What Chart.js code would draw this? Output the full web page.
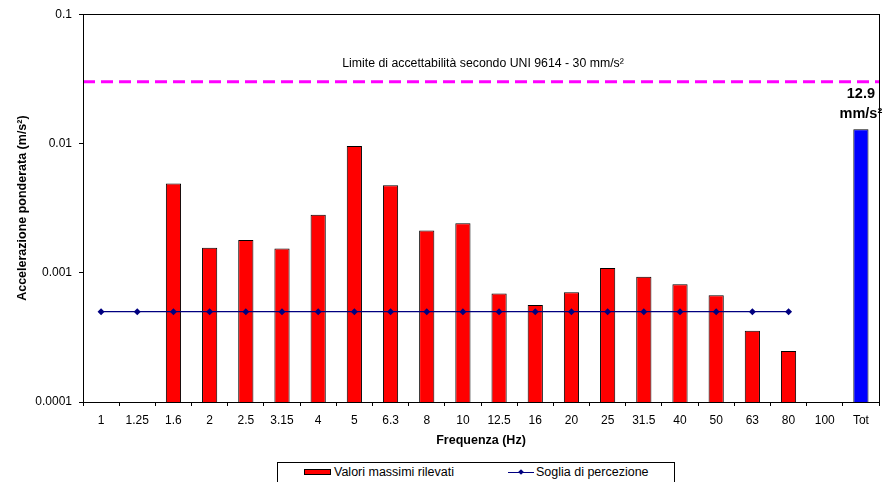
<!DOCTYPE html>
<html>
<head>
<meta charset="utf-8">
<script src="https://cdn.jsdelivr.net/npm/chart.js@4/dist/chart.umd.min.js"></script>
<style>
  html, body { margin: 0; padding: 0; background: #fff; overflow: hidden; }
  #wrap { position: relative; width: 891px; height: 482px; }
  #chart { position: absolute; left: 0; top: 0; }
  #legend {
    position: absolute; left: 277px; top: 462px; width: 396px; height: 30px;
    border: 1px solid #000; background: #fff;
    font: 12.5px "Liberation Sans", Arial, sans-serif; color: #000;
  }
  .item { position: absolute; top: 1px; height: 16px; line-height: 16px; white-space: nowrap; }
  .swatch { position: absolute; top: 5px; width: 25px; height: 4px; background: #ff0000; border: 1px solid #000; }
  .lineMark { position: absolute; top: 8px; width: 26px; height: 1px; background: #000080; }
  .diamond { position: absolute; top: 6px; width: 4px; height: 4px; background: #000080; transform: rotate(45deg); }
</style>
</head>
<body>
<div id="wrap">
  <canvas id="chart" width="891" height="482"></canvas>
  <div id="legend">
    <div class="item" style="left:26px;">
      <div class="swatch" style="left:0;"></div>
      <span style="position:absolute; left:30px;">Valori massimi rilevati</span>
    </div>
    <div class="item" style="left:230px;">
      <div class="lineMark" style="left:0;"></div>
      <div class="diamond" style="left:11px;"></div>
      <span style="position:absolute; left:28px;">Soglia di percezione</span>
    </div>
  </div>
</div>
<script>
// Third-octave band centre frequencies (Hz) plus the overall total
const bandLabels = ['1', '1.25', '1.6', '2', '2.5', '3.15', '4', '5', '6.3', '8', '10',
                    '12.5', '16', '20', '25', '31.5', '40', '50', '63', '80', '100'];
const totalLabel = 'Tot';

// Maximum weighted acceleration per band (m/s²)
const bandMaxValues = [null, null, 0.00491, 0.00156, 0.00179, 0.00154, 0.00281, 0.00955,
                       0.00476, 0.00212, 0.00241, 0.000691, 0.000564, 0.000707, 0.00109,
                       0.000929, 0.000815, 0.00067, 0.000355, 0.000248, null];
// Overall weighted acceleration (m/s²)
const totalValue = 0.0129;

// Perception threshold (m/s²) per band
const perceptionThreshold = [0.0005, 0.0005, 0.0005, 0.0005, 0.0005, 0.0005, 0.0005, 0.0005,
                             0.0005, 0.0005, 0.0005, 0.0005, 0.0005, 0.0005, 0.0005, 0.0005,
                             0.0005, 0.0005, 0.0005, 0.0005, null, null];

// UNI 9614 acceptability limit (m/s²)
const acceptabilityLimit = 0.03;

// Y axis decade ticks
const yTicks = [0.0001, 0.001, 0.01, 0.1];

const FONT = '"Liberation Sans", Arial, sans-serif';

const categories = [...bandLabels, totalLabel];
const barValues = [...bandMaxValues, totalValue];
const barColors = categories.map(c => c === totalLabel ? '#0000ff' : '#ff0000');

const overlayPlugin = {
  id: 'overlay',
  beforeDatasetsDraw(chart) {
    const { ctx, chartArea: a, scales: { y } } = chart;
    // Acceptability limit line
    const ly = y.getPixelForValue(acceptabilityLimit);
    ctx.save();
    ctx.strokeStyle = '#ff00ff';
    ctx.lineWidth = 3;
    ctx.setLineDash([12, 6]);
    ctx.beginPath();
    ctx.moveTo(a.left, ly);
    ctx.lineTo(a.right, ly);
    ctx.stroke();
    ctx.setLineDash([]);
    ctx.fillStyle = '#000';
    ctx.font = '12.3px ' + FONT;
    ctx.textAlign = 'center';
    ctx.textBaseline = 'middle';
    ctx.fillText('Limite di accettabilità secondo UNI 9614 - 30 mm/s²', (a.left + a.right) / 2 + 2, ly - 18);
    ctx.restore();
  },
  afterDatasetsDraw(chart) {
    const { ctx, chartArea: a } = chart;
    ctx.save();
    // Plot frame
    ctx.strokeStyle = '#000';
    ctx.lineWidth = 1;
    ctx.strokeRect(Math.round(a.left) + 0.5, Math.round(a.top) + 0.5,
                   Math.round(a.right - a.left), Math.round(a.bottom - a.top));
    // Total value label above its bar
    const meta = chart.getDatasetMeta(0);
    const idx = categories.indexOf(totalLabel);
    const bar = meta.data[idx];
    ctx.fillStyle = '#000';
    ctx.font = 'bold 14.5px ' + FONT;
    ctx.textAlign = 'center';
    ctx.textBaseline = 'alphabetic';
    const txt = (totalValue * 1000).toFixed(1);
    ctx.fillText(txt, bar.x, bar.y - 31);
    ctx.fillText('mm/s²', bar.x, bar.y - 11);
    ctx.restore();
  }
};

new Chart(document.getElementById('chart'), {
  type: 'bar',
  data: {
    labels: categories,
    datasets: [
      {
        type: 'bar',
        label: 'Valori massimi rilevati',
        data: barValues,
        backgroundColor: barColors,
        borderColor: '#000',
        borderWidth: 1,
        barPercentage: 0.42,
        categoryPercentage: 1.0,
        order: 2
      },
      {
        type: 'line',
        label: 'Soglia di percezione',
        data: perceptionThreshold,
        borderColor: '#000080',
        borderWidth: 1.2,
        backgroundColor: '#000080',
        pointStyle: 'rectRot',
        pointRadius: 3.5,
        pointBackgroundColor: '#000080',
        pointBorderColor: '#000080',
        pointBorderWidth: 0,
        spanGaps: false,
        order: 1
      }
    ]
  },
  options: {
    responsive: false,
    animation: false,
    events: [],
    layout: { padding: { left: 0, top: 14, right: 12, bottom: 30 } },
    plugins: {
      legend: { display: false },
      tooltip: { enabled: false }
    },
    scales: {
      x: {
        type: 'category',
        offset: true,
        grid: {
          offset: true, drawOnChartArea: false, drawTicks: true,
          tickLength: 4, color: '#000', lineWidth: 1
        },
        border: { display: true, color: '#000', width: 1 },
        ticks: {
          color: '#000', font: { family: FONT, size: 12 }, padding: 7,
          maxRotation: 0, autoSkip: false
        },
        title: {
          display: true, text: 'Frequenza (Hz)', color: '#000',
          font: { family: FONT, size: 12.5, weight: 'bold' },
          padding: { top: 0, bottom: 3.5 }
        },
        afterFit(scale) { scale.height = 50; }
      },
      y: {
        type: 'logarithmic',
        min: yTicks[0],
        max: yTicks[yTicks.length - 1],
        grid: {
          drawOnChartArea: false, drawTicks: true, tickLength: 4,
          color: '#000', lineWidth: 1
        },
        border: { display: true, color: '#000', width: 1 },
        afterBuildTicks(scale) { scale.ticks = yTicks.map(v => ({ value: v })); },
        ticks: {
          color: '#000', font: { family: FONT, size: 12 }, padding: 7,
          callback: v => String(v)
        },
        title: {
          display: true, text: 'Accelerazione ponderata (m/s²)', color: '#000',
          font: { family: FONT, size: 12.5, weight: 'bold' },
          padding: { top: 15.5, bottom: 0 }
        },
        afterFit(scale) { scale.width = 83; }
      }
    }
  },
  plugins: [overlayPlugin]
});
</script>
</body>
</html>
